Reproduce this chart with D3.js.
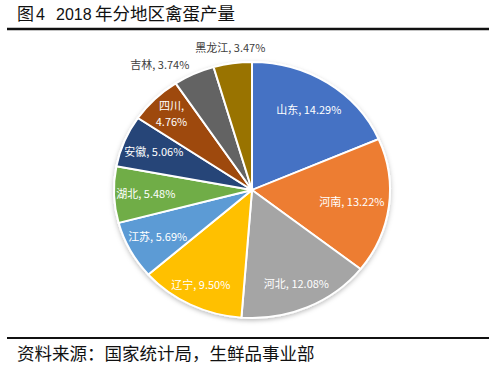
<!DOCTYPE html>
<html>
<head>
<meta charset="utf-8">
<script src="https://cdn.jsdelivr.net/npm/d3@7"></script>
<style>
  html, body { margin: 0; padding: 0; background: #fff; }
  svg { display: block; }
</style>
</head>
<body>
<div id="chart"></div>
<script>
// 2018 年分地区禽蛋产量 — share by province
const regions = ['山东', '河南', '河北', '辽宁', '江苏', '湖北', '安徽', '四川', '吉林', '黑龙江'];
const shares = [14.29, 13.22, 12.08, 9.50, 5.69, 5.48, 5.06, 4.76, 3.74, 3.47];
const colors = ['#4472C4', '#ED7D31', '#A5A5A5', '#FFC000', '#5B9BD5', '#70AD47', '#264478', '#9E480E', '#636363', '#997300'];

// label distance from centre, as a fraction of the radius (Excel "best fit")
const labelRadius = { '山东': 0.75, '河南': 0.73, '河北': 0.80, '辽宁': 0.83, '江苏': 0.775, '湖北': 0.77, '安徽': 0.77, '四川': 0.83, '吉林': 1.08, '黑龙江': 1.12 };
const outside = new Set(['吉林', '黑龙江']);
const twoLine = new Set(['四川']);

const W = 500, H = 371;
const cx = 252, cy = 190, rx = 138, ry = 128;
const sy = ry / rx;

const svg = d3.select('#chart').append('svg')
  .attr('width', W).attr('height', H)
  .attr('viewBox', `0 0 ${W} ${H}`);

const defs = svg.append('defs');
const f = defs.append('filter').attr('id', 'shadow')
  .attr('x', '-20%').attr('y', '-20%').attr('width', '140%').attr('height', '140%');
f.append('feDropShadow').attr('dx', 0).attr('dy', 2).attr('stdDeviation', 2.5)
  .attr('flood-color', '#000').attr('flood-opacity', 0.25);

// title
const title = svg.append('text')
  .attr('y', 20)
  .attr('font-family', "'Liberation Sans', 'Noto Sans CJK SC', sans-serif")
  .attr('font-size', '17px')
  .attr('fill', '#111');
title.append('tspan').attr('x', 17).text('图');
title.append('tspan').attr('x', 36).attr('font-size', '16px').text('4');
title.append('tspan').attr('x', 56).attr('font-size', '16px').text('2018');
title.append('tspan').attr('x', 95).attr('font-family', "'Noto Sans CJK SC', sans-serif").attr('font-size', '17.5px').text('年分地区禽蛋产量');

svg.append('line')
  .attr('x1', 7).attr('x2', 489).attr('y1', 29).attr('y2', 29)
  .attr('stroke', '#111').attr('stroke-width', 2.5);

// pie
const data = regions.map((r, i) => ({ name: r, value: shares[i], color: colors[i] }));
const pie = d3.pie().sort(null).value(d => d.value);
const arcs = pie(data);
const arc = d3.arc().innerRadius(0).outerRadius(rx);

const pieG = svg.append('g')
  .attr('transform', `translate(${cx},${cy}) scale(1,${sy})`)
  .attr('filter', 'url(#shadow)');

pieG.selectAll('path')
  .data(arcs)
  .join('path')
  .attr('d', arc)
  .attr('fill', d => d.data.color)
  .attr('stroke', '#fff')
  .attr('stroke-width', 2);

// labels
const labelG = svg.append('g')
  .attr('font-family', "'Noto Sans CJK SC', sans-serif")
  .attr('font-size', '11px');

arcs.forEach(d => {
  const name = d.data.name;
  const mid = (d.startAngle + d.endAngle) / 2;
  const r = rx * labelRadius[name];
  const x = cx + r * Math.sin(mid);
  const y = cy - r * Math.cos(mid) * sy;
  const txt = `${d.data.value.toFixed(2)}%`;
  const isOut = outside.has(name);
  let anchor = 'middle';
  if (isOut && Math.abs(Math.sin(mid)) > 0.2) anchor = Math.sin(mid) < 0 ? 'end' : 'start';

  const t = labelG.append('text')
    .attr('text-anchor', anchor)
    .attr('fill', isOut ? '#404040' : '#fff');

  if (twoLine.has(name)) {
    t.append('tspan').attr('x', x).attr('y', y - 4).text(`${name},`);
    t.append('tspan').attr('x', x).attr('y', y + 12).text(txt);
  } else {
    t.attr('x', x).attr('y', y + 4).text(`${name}, ${txt}`);
  }
});

// source
svg.append('line')
  .attr('x1', 7).attr('x2', 489).attr('y1', 338).attr('y2', 338)
  .attr('stroke', '#111').attr('stroke-width', 2);

svg.append('text')
  .attr('x', 17).attr('y', 360)
  .attr('font-family', "'Noto Sans CJK SC', sans-serif")
  .attr('font-size', '17.5px')
  .attr('fill', '#111')
  .text('资料来源：国家统计局，生鲜品事业部');
</script>
</body>
</html>
